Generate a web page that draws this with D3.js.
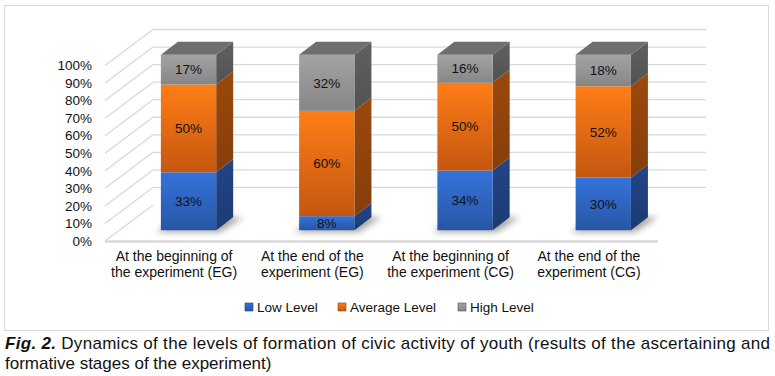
<!DOCTYPE html>
<html>
<head>
<meta charset="utf-8">
<script src="https://d3js.org/d3.v7.min.js"></script>
<style>
  body { margin: 0; background: #fff; }
  svg text { font-family: "Liberation Sans", Arial, sans-serif; fill: #111; }
</style>
</head>
<body>
<div id="chart"></div>
<script>
// data
const categories = ["At the beginning of\nthe experiment (EG)", "At the end of the\nexperiment (EG)",
                    "At the beginning of\nthe experiment (CG)", "At the end of the\nexperiment (CG)"];
const seriesNames = ["Low Level", "Average Level", "High Level"];
const lowLevel = [33, 8, 34, 30];
const averageLevel = [50, 60, 50, 52];
const highLevel = [17, 32, 16, 18];
const yTicks = [0, 10, 20, 30, 40, 50, 60, 70, 80, 90, 100];

const W = 775, H = 376;
const svg = d3.select("#chart").append("svg").attr("width", W).attr("height", H);
const defs = svg.append("defs");

// colours: front top, front bottom, side, top face
const palette = {
  "Low Level":     { a: "#3473da", b: "#2856a6", side: "#1f3f7c", top: "#2c5cb0" },
  "Average Level": { a: "#ff7d16", b: "#c45710", side: "#8f430c", top: "#c8620f" },
  "High Level":    { a: "#a3a3a3", b: "#868686", side: "#585858", top: "#6e6e6e" }
};
seriesNames.forEach((s, i) => {
  const g = defs.append("linearGradient").attr("id", "g" + i).attr("x1", 0).attr("y1", 0).attr("x2", 0).attr("y2", 1);
  g.append("stop").attr("offset", "0%").attr("stop-color", palette[s].a);
  g.append("stop").attr("offset", "100%").attr("stop-color", palette[s].b);
  const gs = defs.append("linearGradient").attr("id", "s" + i).attr("x1", 0).attr("y1", 0).attr("x2", 0).attr("y2", 1);
  gs.append("stop").attr("offset", "0%").attr("stop-color", d3.color(palette[s].side).brighter(0.25));
  gs.append("stop").attr("offset", "100%").attr("stop-color", d3.color(palette[s].side).darker(0.2));
});
defs.append("filter").attr("id", "blur").attr("x", "-50%").attr("y", "-50%").attr("width", "200%").attr("height", "200%")
  .append("feGaussianBlur").attr("stdDeviation", 3);

// chart frame
svg.append("rect").attr("x", 4.5).attr("y", 5.5).attr("width", 764).attr("height", 325)
  .attr("fill", "#fff").attr("stroke", "#d9d9d9");

// 3d geometry
const depth = { dx: 48, dy: -36 };
const x = d3.scaleBand().domain(categories).range([105, 658]).paddingInner(0.6).paddingOuter(0.3);
const y = d3.scaleLinear().domain([0, 100]).range([241, 65.5]);
const barOff = { dx: depth.dx * 0.3, dy: depth.dy * 0.3 };
const barDepth = { dx: 17, dy: -13 };

// walls
const grid = svg.append("g").attr("stroke", "#d9d9d9").attr("stroke-width", 1.3).attr("fill", "none");
grid.selectAll("line.back").data(yTicks.filter(d => d > 0)).join("line")
  .attr("x1", x.range()[0] + depth.dx).attr("x2", x.range()[1] + depth.dx)
  .attr("y1", d => y(d) + depth.dy).attr("y2", d => y(d) + depth.dy);
grid.selectAll("line.side").data(yTicks).join("line")
  .attr("x1", x.range()[0]).attr("x2", x.range()[0] + depth.dx)
  .attr("y1", d => y(d)).attr("y2", d => y(d) + depth.dy);
// floor edge
svg.append("line").attr("x1", x.range()[0]).attr("x2", x.range()[1]).attr("y1", y(0) + 0.5).attr("y2", y(0) + 0.5)
  .attr("stroke", "#d9d9d9").attr("stroke-width", 2.5);

// tick labels
svg.append("g").selectAll("text").data(yTicks).join("text")
  .attr("x", 92).attr("y", d => y(d)).attr("dy", "0.35em")
  .attr("text-anchor", "end").style("font-size", "13.5px")
  .text(d => d + "%");

// stacked data
const table = categories.map((c, i) => ({ cat: c, "Low Level": lowLevel[i], "Average Level": averageLevel[i], "High Level": highLevel[i] }));
const stack = d3.stack().keys(seriesNames)(table);

// shadows
svg.append("g").selectAll("path").data(table).join("path")
  .attr("fill", "#000").attr("opacity", 0.35).attr("filter", "url(#blur)")
  .attr("d", d => {
    const x0 = x(d.cat) + barOff.dx - 4, x1 = x(d.cat) + barOff.dx + x.bandwidth() + 4;
    const yb = y(0) + barOff.dy;
    return `M${x0},${yb + 2} L${x1},${yb + 2} L${x1 + barDepth.dx + 6},${yb + barDepth.dy} L${x0 + barDepth.dx},${yb + barDepth.dy}Z`;
  });

// bars
const bars = svg.append("g");
table.forEach((row, ci) => {
  const bx = x(row.cat) + barOff.dx, bw = x.bandwidth();
  const g = bars.append("g");
  stack.forEach((layer, si) => {
    const d = layer[ci];
    const yt = y(d[1]) + barOff.dy, yb = y(d[0]) + barOff.dy;
    g.append("path").attr("fill", `url(#s${si})`)
      .attr("d", `M${bx + bw},${yt} L${bx + bw + barDepth.dx},${yt + barDepth.dy} L${bx + bw + barDepth.dx},${yb + barDepth.dy} L${bx + bw},${yb}Z`);
    g.append("rect").attr("x", bx).attr("y", yt).attr("width", bw).attr("height", yb - yt)
      .attr("fill", `url(#g${si})`);
    if (si === stack.length - 1) {
      g.append("path").attr("fill", palette[layer.key].top)
        .attr("d", `M${bx},${yt} L${bx + barDepth.dx},${yt + barDepth.dy} L${bx + bw + barDepth.dx},${yt + barDepth.dy} L${bx + bw},${yt}Z`);
    }
    g.append("text").attr("x", bx + bw / 2).attr("y", (yt + yb) / 2).attr("dy", "0.35em")
      .attr("text-anchor", "middle").style("font-size", "13.5px")
      .text(d[1] - d[0] + "%");
  });
});

// category labels
const cats = svg.append("g").selectAll("text").data(categories).join("text")
  .attr("text-anchor", "middle").style("font-size", "14px");
cats.each(function (c) {
  c.split("\n").forEach((line, i) => {
    d3.select(this).append("tspan").attr("x", x(c) + x.bandwidth() / 2).attr("y", 261 + i * 16).text(line);
  });
});

// legend
const legendX = [245, 338, 458];
const legend = svg.append("g").selectAll("g").data(seriesNames).join("g")
  .attr("transform", (d, i) => `translate(${legendX[i]},307)`);
legend.append("rect").attr("x", 0).attr("y", -4).attr("width", 8).attr("height", 8)
  .attr("fill", (d, i) => `url(#g${i})`).attr("stroke", d => palette[d].side).attr("stroke-width", 0.6);
legend.append("text").attr("x", 12).attr("y", 0).attr("dy", "0.35em").style("font-size", "13.5px").text(d => d);

// caption
const cap = svg.append("text").attr("x", 5).attr("y", 349).style("font-size", "17px")
  .attr("textLength", 765).attr("lengthAdjust", "spacing");
cap.append("tspan").style("font-weight", "bold").style("font-style", "italic").text("Fig. 2.");
cap.append("tspan").text(" Dynamics of the levels of formation of civic activity of youth (results of the ascertaining and");
svg.append("text").attr("x", 5).attr("y", 369).style("font-size", "17px")
  .text("formative stages of the experiment)");
</script>
</body>
</html>
